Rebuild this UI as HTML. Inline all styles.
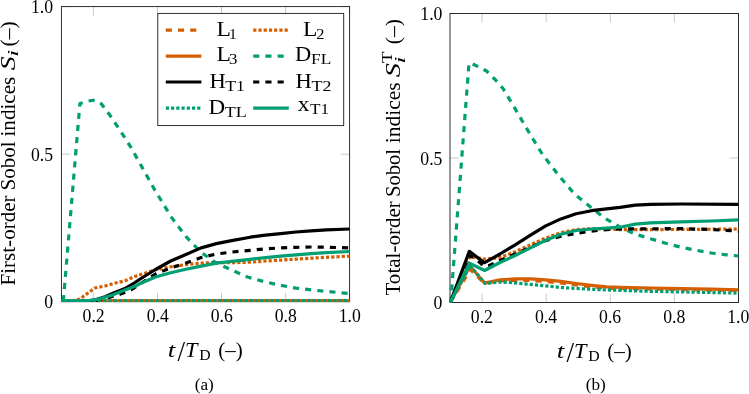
<!DOCTYPE html>
<html><head><meta charset="utf-8"><title>Sobol indices</title>
<style>html,body{margin:0;padding:0;background:#fff}body{width:749px;height:394px;overflow:hidden}svg{display:block;will-change:transform}</style>
</head><body>
<svg width="749" height="394" viewBox="0 0 749 394" font-family="'Liberation Serif', serif" fill="#000">
<rect width="749" height="394" fill="#fff"/>
<defs><clipPath id="cl"><rect x="61.1" y="6.3" width="288.8" height="295.8"/></clipPath><clipPath id="cr"><rect x="449.7" y="13.2" width="289.1" height="289.7"/></clipPath></defs>
<g stroke="#808080" stroke-width="0.42" fill="none">
<line x1="93.4" y1="301.7" x2="93.4" y2="292.8"/><line x1="93.4" y1="6.6" x2="93.4" y2="15.5"/>
<line x1="157.5" y1="301.7" x2="157.5" y2="292.8"/><line x1="157.5" y1="6.6" x2="157.5" y2="15.5"/>
<line x1="221.5" y1="301.7" x2="221.5" y2="292.8"/><line x1="221.5" y1="6.6" x2="221.5" y2="15.5"/>
<line x1="285.6" y1="301.7" x2="285.6" y2="292.8"/><line x1="285.6" y1="6.6" x2="285.6" y2="15.5"/>
<line x1="349.6" y1="301.7" x2="349.6" y2="292.8"/><line x1="349.6" y1="6.6" x2="349.6" y2="15.5"/>
<line x1="61.4" y1="301.7" x2="70.3" y2="301.7"/><line x1="349.6" y1="301.7" x2="340.7" y2="301.7"/>
<line x1="61.4" y1="154.2" x2="70.3" y2="154.2"/><line x1="349.6" y1="154.2" x2="340.7" y2="154.2"/>
<line x1="61.4" y1="6.6" x2="70.3" y2="6.6"/><line x1="349.6" y1="6.6" x2="340.7" y2="6.6"/>
</g>
<rect x="61.4" y="6.6" width="288.2" height="295.1" fill="none" stroke="#1a1a1a" stroke-width="0.9"/>
<g clip-path="url(#cl)" fill="none" stroke-width="3.2" stroke-linejoin="round">
<polyline points="61.4,300.8 349.6,300.6" stroke="#D55E00" stroke-dasharray="6.1 6.1"/>
<polyline points="61.4,300.9 72.8,300.8 80.0,299.0 88.0,293.0 95.0,288.0 105.0,286.0 113.6,283.5 125.0,280.8 135.0,276.4 140.2,274.7 155.5,269.8 170.7,266.8 185.9,264.6 201.1,263.1 216.4,262.5 235.0,262.6 250.2,262.2 265.5,261.0 280.7,260.1 295.9,259.1 311.1,258.2 326.4,257.3 349.6,256.1" stroke="#D55E00" stroke-dasharray="3.2 2.03"/>
<polyline points="61.4,300.8 349.6,300.6" stroke="#D55E00"/>
<polyline points="63.3,301.2 79.9,103.6 86.5,101.4 93.0,100.2 98.0,101.4 101.5,104.0 109.6,114.7 117.2,126.1 124.8,137.6 131.1,147.7 154.8,190.0 171.5,217.4 186.5,237.2 201.1,252.4 216.4,263.1 233.0,270.7 247.5,277.0 265.5,282.0 280.7,285.3 295.9,288.1 311.1,289.9 326.4,291.4 349.6,293.6" stroke="#009E73" stroke-dasharray="6.1 6.1"/>
<polyline points="86.0,301.2 95.0,300.0 105.0,296.8 113.6,293.0 125.0,288.5 135.0,282.5 140.2,279.0 155.5,269.5 170.7,261.0 185.9,254.5 201.1,247.9 216.4,243.6 231.6,240.6 250.2,237.2 265.5,235.1 280.7,233.6 295.9,232.0 311.1,230.8 326.4,229.9 349.6,229.0" stroke="#000000"/>
<polyline points="96.0,301.2 108.3,297.6 120.0,294.2 131.0,290.0 143.0,282.0 155.5,274.0 170.7,268.0 185.9,263.0 201.1,257.6 216.4,254.0 231.6,252.1 250.2,250.3 265.5,248.8 280.7,247.9 295.9,247.3 311.1,247.0 326.4,247.2 349.6,247.9" stroke="#000000" stroke-dasharray="6.1 6.1"/>
<polyline points="61.4,300.8 349.6,300.6" stroke="#009E73" stroke-dasharray="3.2 2.03"/>
<polyline points="61.4,300.8 80.0,300.8 90.0,300.3 100.0,298.8 113.6,294.6 125.0,290.0 135.0,286.3 140.2,283.5 155.5,277.0 170.7,272.8 185.9,269.2 201.1,266.1 216.4,263.1 231.6,261.3 250.2,259.4 265.5,257.6 280.7,256.1 295.9,254.9 311.1,253.7 326.4,252.7 349.6,251.5" stroke="#009E73"/>
</g>
<g font-size="17.7" text-anchor="middle">
<text transform="translate(93.6,321.9) scale(1,1.04)">0.2</text><text transform="translate(157.7,321.9) scale(1,1.04)">0.4</text><text transform="translate(221.7,321.9) scale(1,1.04)">0.6</text><text transform="translate(285.8,321.9) scale(1,1.04)">0.8</text><text transform="translate(349.8,321.9) scale(1,1.04)">1.0</text>
</g>
<g font-size="17.7" text-anchor="end">
<text transform="translate(53.0,308.3) scale(1,1.04)">0</text><text transform="translate(53.0,160.8) scale(1,1.04)">0.5</text><text transform="translate(53.0,13.2) scale(1,1.04)">1.0</text>
</g>
<g stroke="#808080" stroke-width="0.42" fill="none">
<line x1="482.1" y1="302.5" x2="482.1" y2="293.6"/><line x1="482.1" y1="13.5" x2="482.1" y2="22.4"/>
<line x1="546.2" y1="302.5" x2="546.2" y2="293.6"/><line x1="546.2" y1="13.5" x2="546.2" y2="22.4"/>
<line x1="610.3" y1="302.5" x2="610.3" y2="293.6"/><line x1="610.3" y1="13.5" x2="610.3" y2="22.4"/>
<line x1="674.4" y1="302.5" x2="674.4" y2="293.6"/><line x1="674.4" y1="13.5" x2="674.4" y2="22.4"/>
<line x1="738.5" y1="302.5" x2="738.5" y2="293.6"/><line x1="738.5" y1="13.5" x2="738.5" y2="22.4"/>
<line x1="450.0" y1="302.5" x2="458.9" y2="302.5"/><line x1="738.5" y1="302.5" x2="729.6" y2="302.5"/>
<line x1="450.0" y1="158.0" x2="458.9" y2="158.0"/><line x1="738.5" y1="158.0" x2="729.6" y2="158.0"/>
<line x1="450.0" y1="13.5" x2="458.9" y2="13.5"/><line x1="738.5" y1="13.5" x2="729.6" y2="13.5"/>
</g>
<rect x="450.0" y="13.5" width="288.5" height="289.0" fill="none" stroke="#1a1a1a" stroke-width="0.9"/>
<g clip-path="url(#cr)" fill="none" stroke-width="3.2" stroke-linejoin="round">
<polyline points="450.2,302.5 470.5,269.5 484.4,283.5 498.4,280.9 515.0,280.5 530.0,280.5 545.7,281.5 560.9,283.0 576.1,285.0 591.4,286.8 606.6,288.0 620.0,288.5 738.5,290.5" stroke="#D55E00" stroke-dasharray="6.1 6.1"/>
<polyline points="450.2,302.5 469.8,256.8 484.5,259.0 492.0,258.5 501.7,257.0 515.2,251.8 530.5,244.8 545.7,238.1 560.9,232.6 576.1,229.6 591.4,228.7 606.6,229.0 620.0,229.6 680.0,229.5 738.5,229.0" stroke="#D55E00" stroke-dasharray="3.2 2.03"/>
<polyline points="450.2,302.5 470.0,266.0 484.6,283.0 500.0,279.9 515.2,278.9 530.5,278.9 545.7,279.9 560.9,281.4 576.1,283.5 591.4,285.3 606.6,286.9 620.0,287.4 650.4,288.0 680.8,288.6 711.3,289.2 738.5,289.8" stroke="#D55E00"/>
<polyline points="450.7,302.5 469.0,63.0 472.3,63.8 477.9,66.5 486.5,71.0 495.6,80.0 503.0,88.5 513.5,106.0 522.4,121.2 529.5,133.3 542.6,154.6 557.9,174.4 574.6,194.2 588.3,205.2 603.6,217.4 620.0,227.1 635.2,234.1 650.4,238.7 665.6,243.2 680.8,247.2 696.0,250.2 711.3,253.0 726.5,254.8 738.5,256.0" stroke="#009E73" stroke-dasharray="6.1 6.1"/>
<polyline points="450.2,302.5 469.3,251.4 484.5,262.7 500.0,254.0 515.2,244.8 530.5,235.1 545.7,225.9 560.9,218.9 576.1,213.8 591.4,210.7 606.6,208.9 620.0,207.4 635.2,205.2 650.4,204.3 680.8,204.0 738.5,204.3" stroke="#000000"/>
<polyline points="450.2,302.5 469.5,255.5 477.0,260.0 484.4,266.5 490.0,265.3 500.0,260.5 515.2,254.0 530.5,247.2 545.7,240.5 560.9,236.3 576.1,233.3 591.4,231.1 606.6,229.6 620.0,229.0 680.8,228.6 711.0,229.5 738.5,231.1" stroke="#000000" stroke-dasharray="6.1 6.1"/>
<polyline points="450.2,302.5 470.0,265.7 485.2,283.5 500.0,282.0 515.2,282.9 530.5,284.4 545.7,285.9 560.9,287.5 576.1,288.4 591.4,289.3 606.6,289.9 620.0,290.4 650.0,291.3 680.0,291.9 711.0,292.5 738.5,293.1" stroke="#009E73" stroke-dasharray="3.2 2.03"/>
<polyline points="450.2,302.5 469.4,263.1 484.6,270.5 500.0,262.5 515.2,255.5 530.5,247.9 545.7,240.3 560.9,234.2 576.1,230.5 591.4,229.0 606.6,228.1 620.0,227.2 635.2,224.1 650.4,222.9 680.8,221.9 711.3,221.0 738.5,219.8" stroke="#009E73"/>
</g>
<g font-size="17.7" text-anchor="middle">
<text transform="translate(481.9,323.1) scale(1,1.04)">0.2</text><text transform="translate(546.0,323.1) scale(1,1.04)">0.4</text><text transform="translate(610.1,323.1) scale(1,1.04)">0.6</text><text transform="translate(674.2,323.1) scale(1,1.04)">0.8</text><text transform="translate(738.3,323.1) scale(1,1.04)">1.0</text>
</g>
<g font-size="17.7" text-anchor="end">
<text transform="translate(442.4,309.1) scale(1,1.04)">0</text><text transform="translate(442.4,164.6) scale(1,1.04)">0.5</text><text transform="translate(442.4,20.1) scale(1,1.04)">1.0</text>
</g>
<text transform="translate(167.82,356.80) scale(1.282,1.000)" font-size="21.0" font-style="italic">t</text>
<text transform="translate(177.40,361.31) scale(1.293,1.392)" font-size="21.0">/</text>
<text transform="translate(185.03,356.80) scale(1.067,1.000)" font-size="21.0" font-style="italic">T</text>
<text transform="translate(199.32,360.00) scale(1.100,1.000)" font-size="14.4">D</text>
<text transform="translate(218.16,356.80) scale(1.005,1.000)" font-size="21.0">(–)</text>
<text transform="translate(556.82,357.60) scale(1.282,1.000)" font-size="21.0" font-style="italic">t</text>
<text transform="translate(566.40,362.11) scale(1.293,1.392)" font-size="21.0">/</text>
<text transform="translate(574.03,357.60) scale(1.067,1.000)" font-size="21.0" font-style="italic">T</text>
<text transform="translate(588.32,360.80) scale(1.100,1.000)" font-size="14.4">D</text>
<text transform="translate(607.16,357.60) scale(1.005,1.000)" font-size="21.0">(–)</text>
<text x="204.2" y="389.8" font-size="17.2" text-anchor="middle">(a)</text>
<text x="595.8" y="390.3" font-size="17.2" text-anchor="middle">(b)</text>
<g transform="translate(14.7,0) rotate(-90)">
<text transform="translate(-285.53,0.00) scale(1.004,1.000)" font-size="21.0">First-order</text>
<text transform="translate(-190.47,0.00) scale(1.003,1.000)" font-size="21.0">Sobol</text>
<text transform="translate(-136.52,0.00) scale(1.007,1.000)" font-size="21.0">indices</text>
<text transform="translate(-70.28,0.00) scale(1.327,1.000)" font-size="21.0" font-style="italic">S</text>
<text transform="translate(-56.98,3.20) scale(1.802,1.000)" font-size="14.6" font-style="italic">i</text>
<text transform="translate(-46.57,0.00) scale(1.032,1.000)" font-size="21.0">(–)</text>
</g>
<g transform="translate(400.0,0) rotate(-90)">
<text transform="translate(-295.52,0.00) scale(1.003,1.000)" font-size="21.0">Total-order</text>
<text transform="translate(-197.04,0.00) scale(0.982,1.000)" font-size="21.0">Sobol</text>
<text transform="translate(-143.23,0.00) scale(1.024,1.000)" font-size="21.0">indices</text>
<text transform="translate(-77.28,0.00) scale(1.348,1.000)" font-size="21.0" font-style="italic">S</text>
<text transform="translate(-62.88,-8.20) scale(1.322,1.000)" font-size="14.2">T</text>
<text transform="translate(-63.78,5.00) scale(1.802,1.000)" font-size="14.6" font-style="italic">i</text>
<text transform="translate(-44.26,0.00) scale(1.027,1.000)" font-size="21.0">(–)</text>
</g>
<rect x="157.8" y="13.4" width="185.9" height="112.2" fill="#fff" stroke="#1a1a1a" stroke-width="0.9"/>
<line x1="165.8" y1="30.2" x2="201.4" y2="30.2" stroke="#D55E00" stroke-width="3.2" stroke-dasharray="6.1 6.1"/><line x1="253.2" y1="30.2" x2="288.8" y2="30.2" stroke="#D55E00" stroke-width="3.2" stroke-dasharray="3.2 2.03"/><line x1="165.8" y1="56.1" x2="201.4" y2="56.1" stroke="#D55E00" stroke-width="3.2"/><line x1="253.2" y1="56.1" x2="288.8" y2="56.1" stroke="#009E73" stroke-width="3.2" stroke-dasharray="6.1 6.1"/><line x1="165.8" y1="82.0" x2="201.4" y2="82.0" stroke="#000000" stroke-width="3.2"/><line x1="253.2" y1="82.0" x2="288.8" y2="82.0" stroke="#000000" stroke-width="3.2" stroke-dasharray="6.1 6.1"/><line x1="165.8" y1="108.2" x2="201.4" y2="108.2" stroke="#009E73" stroke-width="3.2" stroke-dasharray="3.2 2.03"/><line x1="253.2" y1="108.2" x2="288.8" y2="108.2" stroke="#009E73" stroke-width="3.2"/><text transform="translate(216.49,35.60) scale(1.137,1.000)" font-size="20.8">L</text><text transform="translate(229.11,38.80) scale(1.057,1.000)" font-size="14.6">1</text>
<text transform="translate(303.00,35.60) scale(1.128,1.000)" font-size="20.8">L</text><text transform="translate(316.14,38.80) scale(1.130,1.000)" font-size="14.6">2</text>
<text transform="translate(216.49,60.90) scale(1.137,1.000)" font-size="20.8">L</text><text transform="translate(229.06,64.10) scale(1.153,1.000)" font-size="14.6">3</text>
<text transform="translate(295.03,60.90) scale(1.080,1.000)" font-size="20.8">D</text><text transform="translate(311.08,64.10) scale(1.186,1.000)" font-size="14.6">FL</text>
<text transform="translate(209.62,87.80) scale(1.085,1.000)" font-size="20.8">H</text><text transform="translate(225.24,91.00) scale(1.217,1.000)" font-size="14.6">T1</text>
<text transform="translate(295.62,87.80) scale(1.085,1.000)" font-size="20.8">H</text><text transform="translate(311.44,91.00) scale(1.230,1.000)" font-size="14.6">T2</text>
<text transform="translate(208.61,113.70) scale(1.109,1.000)" font-size="20.8">D</text><text transform="translate(224.84,116.90) scale(1.238,1.000)" font-size="14.6">TL</text>
<text transform="translate(297.87,111.00) scale(1.122,1.000)" font-size="20.8">x</text><text transform="translate(309.96,114.20) scale(1.177,1.000)" font-size="14.6">T1</text>
</svg>
</body></html>
